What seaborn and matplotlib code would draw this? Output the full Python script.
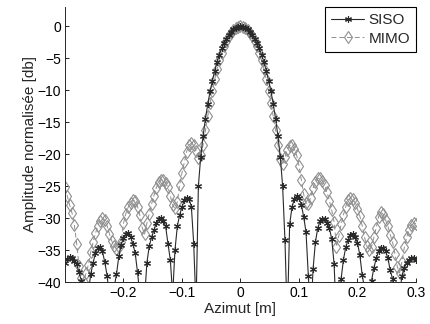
import matplotlib
matplotlib.use("Agg")
import numpy as np
import pandas as pd
import seaborn as sns
import matplotlib.pyplot as plt

# Azimuth sampling (mm)
azimut_mm = [
    -300, -296, -292, -288, -284, -280, -276, -272, -268, -264,
    -260, -256, -252, -248, -244, -240, -236, -232, -228, -224,
    -220, -216, -212, -208, -204, -200, -196, -192, -188, -184,
    -180, -176, -172, -168, -164, -160, -156, -152, -148, -144,
    -140, -136, -132, -128, -124, -120, -116, -112, -108, -104,
    -100, -96, -92, -88, -84, -80, -76, -72, -68, -64,
    -60, -56, -52, -48, -44, -40, -36, -32, -28, -24,
    -20, -16, -12, -8, -4,
    0,
    4, 8, 12, 16, 20, 24, 28, 32, 36, 40,
    44, 48, 52, 56, 60, 64, 68, 72, 76, 80,
    84, 88, 92, 96, 100, 104, 108, 112, 116, 120,
    124, 128, 132, 136, 140, 144, 148, 152, 156, 160,
    164, 168, 172, 176, 180, 184, 188, 192, 196, 200,
    204, 208, 212, 216, 220, 224, 228, 232, 236, 240,
    244, 248, 252, 256, 260, 264, 268, 272, 276, 280,
    284, 288, 292, 296, 300,
]

siso_db = [
    -37.0, -36.4, -36.1, -36.2, -36.7, -37.2, -38.5, -39.8, -43.0, -48.0,
    -41.5, -38.8, -37.0, -35.5, -34.7, -34.5, -35.2, -36.9, -39.0, -42.5,
    -47.0, -40.8, -38.8, -36.0, -34.2, -33.1, -32.5, -32.4, -32.9, -34.0,
    -35.5, -38.5, -42.0, -46.0, -42.5, -37.0, -34.4, -33.0, -31.9, -30.8,
    -30.1, -30.0, -30.4, -31.3, -34.0, -36.5, -42.0, -35.0, -31.3, -29.5,
    -28.3, -27.2, -26.8, -27.0, -28.2, -34.0, -44.0, -25.0, -20.4, -17.2,
    -14.5, -12.2, -10.2, -8.5, -6.95, -5.6, -4.45, -3.45, -2.63, -1.95,
    -1.35, -0.87, -0.49, -0.22, -0.05,
    0.0,
    -0.05, -0.22, -0.49, -0.87, -1.35, -1.95, -2.63, -3.45, -4.45, -5.6,
    -6.95, -8.5, -10.2, -12.2, -14.5, -17.2, -20.4, -25.0, -33.5, -46.0,
    -31.0, -28.3, -27.0, -26.6, -26.9, -27.9, -29.8, -32.2, -39.0, -46.0,
    -38.0, -33.8, -31.6, -30.5, -30.1, -30.2, -30.8, -31.6, -33.3, -37.2,
    -46.0, -44.0, -39.5, -36.5, -34.5, -33.4, -32.7, -32.5, -32.9, -33.9,
    -35.8, -38.9, -41.0, -48.0, -44.0, -39.8, -37.8, -36.3, -35.2, -34.7,
    -34.7, -35.2, -36.3, -38.2, -39.5, -43.0, -48.0, -42.0, -39.0, -37.8,
    -37.0, -36.5, -36.3, -36.2, -36.6,
]

mimo_db = [
    -25.2, -26.6, -28.0, -29.2, -31.1, -34.0, -37.5, -39.3, -40.0, -38.6,
    -37.3, -35.3, -33.8, -32.4, -31.2, -30.4, -30.0, -30.3, -31.2, -32.5,
    -33.6, -34.4, -34.8, -34.6, -33.8, -30.8, -29.3, -28.3, -27.6, -27.2,
    -27.4, -28.2, -29.6, -31.5, -32.5, -30.8, -29.3, -27.8, -26.5, -25.3,
    -24.4, -24.0, -24.1, -24.5, -25.2, -26.5, -28.0, -28.5, -27.5, -24.8,
    -22.9, -21.3, -19.6, -18.6, -18.3, -18.6, -19.5, -20.6, -20.2, -18.6,
    -16.3, -14.1, -12.0, -10.1, -8.3, -6.7, -5.3, -4.15, -3.15, -2.3,
    -1.6, -1.02, -0.58, -0.26, -0.06,
    0.0,
    -0.06, -0.26, -0.58, -1.02, -1.6, -2.3, -3.15, -4.15, -5.3, -6.7,
    -8.3, -10.1, -12.0, -14.1, -16.3, -18.6, -20.8, -21.6, -20.5, -19.3,
    -18.7, -18.6, -19.2, -20.2, -21.8, -24.0, -26.3, -27.7, -27.8, -26.8,
    -25.3, -24.3, -23.8, -23.8, -24.2, -24.9, -26.0, -27.3, -28.8, -30.6,
    -34.5, -32.8, -31.0, -29.5, -28.2, -27.2, -26.8, -27.0, -27.7, -28.6,
    -29.7, -31.2, -33.0, -34.4, -35.0, -34.5, -33.0, -31.5, -29.8, -29.1,
    -29.4, -30.3, -31.3, -32.6, -33.8, -35.6, -37.6, -38.6, -36.8, -34.6,
    -33.0, -31.9, -31.1, -30.7, -30.9,
]

x_ticks = [-0.2, -0.1, 0, 0.1, 0.2, 0.3]
x_tick_labels = ["\u22120.2", "\u22120.1", "0", "0.1", "0.2", "0.3"]
y_ticks = [0, -5, -10, -15, -20, -25, -30, -35, -40]
y_tick_labels = ["0", "\u22125", "\u221210", "\u221215", "\u221220",
                 "\u221225", "\u221230", "\u221235", "\u221240"]

assert len(azimut_mm) == len(siso_db) == len(mimo_db), (
    len(azimut_mm), len(siso_db), len(mimo_db))

df = pd.DataFrame({
    "azimut": np.array(azimut_mm) / 1000.0,
    "siso": siso_db,
    "mimo": mimo_db,
})

sns.set_style("ticks")
plt.rcParams["font.family"] = ["Liberation Sans", "DejaVu Sans"]
plt.rcParams["xtick.direction"] = "in"
plt.rcParams["ytick.direction"] = "in"
plt.rcParams["axes.linewidth"] = 0.7

fig = plt.figure(figsize=(4.31, 3.24), dpi=100)
ax = fig.add_axes([65 / 431, 1 - 282 / 324, (416 - 65) / 431, (282 - 7) / 324])

sns.lineplot(data=df, x="azimut", y="mimo", ax=ax, estimator=None,
             color="#8f8f8f", linewidth=0.7, linestyle=(0, (5, 3)),
             marker="d", markersize=6, markerfacecolor="none",
             markeredgecolor="#8f8f8f", markeredgewidth=0.8, label="MIMO",
             zorder=2)
sns.lineplot(data=df, x="azimut", y="siso", ax=ax, estimator=None,
             color="#2a2a2a", linewidth=0.8, linestyle="-",
             marker=(6, 2, 0), markersize=5,
             markeredgecolor="#2a2a2a", markeredgewidth=0.8, label="SISO",
             zorder=3)

ax.set_xlim(-0.3, 0.3)
ax.set_ylim(-40, 3)
ax.set_xticks(x_ticks)
ax.set_xticklabels(x_tick_labels, fontsize=10)
ax.set_yticks(y_ticks)
ax.set_yticklabels(y_tick_labels, fontsize=10)
ax.tick_params(direction="in", length=3, width=0.6, colors="black", pad=3)
ax.set_xlabel("Azimut [m]", fontsize=11, labelpad=1)
ax.set_ylabel("Amplitude normalisée [db]", fontsize=11, labelpad=0)
sns.despine(ax=ax, top=True, right=True)

handles, labels = ax.get_legend_handles_labels()
order = [labels.index("SISO"), labels.index("MIMO")]
leg = ax.legend([handles[i] for i in order], [labels[i] for i in order],
                loc="upper right", fontsize=11, frameon=True, fancybox=False,
                edgecolor="black", framealpha=1, borderaxespad=0,
                handlelength=2.2, handletextpad=0.25, borderpad=0.4,
                labelspacing=0.3, numpoints=1)
leg.get_frame().set_linewidth(0.8)

fig.savefig("out.png", dpi=100)
